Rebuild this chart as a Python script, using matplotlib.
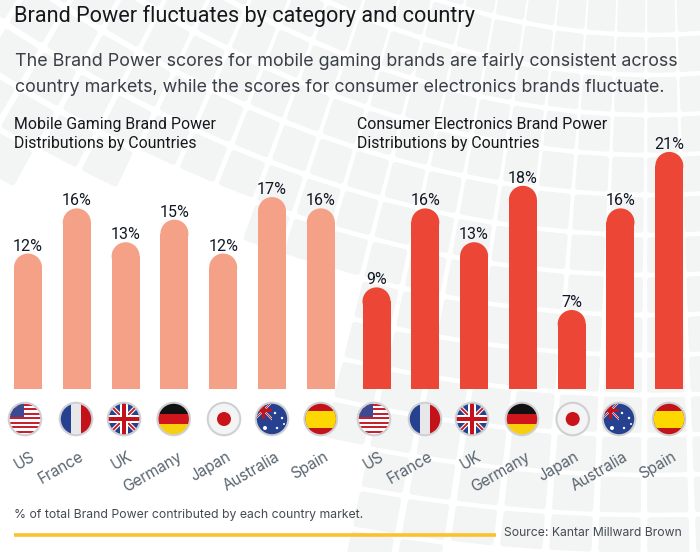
import matplotlib
matplotlib.use("Agg")
import matplotlib.pyplot as plt
import matplotlib.transforms as mtrans
from matplotlib.patches import Circle, Ellipse, Polygon, Rectangle

countries = ["US", "France", "UK", "Germany", "Japan", "Australia", "Spain"]
gaming_share = [12, 16, 13, 15, 12, 17, 16]
electronics_share = [9, 16, 13, 18, 7, 16, 21]

title = "Brand Power fluctuates by category and country"
intro_lines = [
    "The Brand Power scores for mobile gaming brands are fairly consistent across",
    "country markets, while the scores for consumer electronics brands fluctuate.",
]
gaming_head = "Mobile Gaming Brand Power\nDistributions by Countries"
electronics_head = "Consumer Electronics Brand Power\nDistributions by Countries"
footnote = "% of total Brand Power contributed by each country market."
source = "Source: Kantar Millward Brown"

W, H = 700, 552
BAR_BOTTOM = 389
BAR_TOP = 130
PX_PER_PCT = 11.29
SLOT = 48.8
BAR_W = 28 / SLOT

HEAD_FONT = "Roboto"
BODY_FONT = "Inter"


def px_axes(fig, left, right, top, bottom, **kw):
    return fig.add_axes(
        [left / W, 1 - bottom / H, (right - left) / W, (bottom - top) / H], **kw
    )


def warp(u, v):
    # pale tile pattern behind the chart, rows bend upward to the left
    x = u + (v - 300) * (u - 650) * 0.0009
    y = v - 0.00045 * (u - 650) ** 2
    return x, y


def draw_background(ax):
    step = 40
    cell = 30
    for iu in range(-4, 22):
        for iv in range(-2, 22):
            u = iu * step + 10
            v = iv * step
            cx, cy = warp(u + cell / 2, v + cell / 2)
            # lower left of the picture stays white
            if cx < 235 and cy > 165:
                continue
            if cx < 345 and cy > 250:
                continue
            if cy > 560 or cy < -30 or cx > 720 or cx < -30:
                continue
            pts = [warp(u, v), warp(u + cell, v), warp(u + cell, v + cell), warp(u, v + cell)]
            ax.add_patch(Polygon(pts, closed=True, fc="#f3f4f4", ec="#f3f4f4", lw=4,
                                 joinstyle="round", zorder=0))


def draw_bars(ax, values, color, centre0):
    left = centre0 - SLOT / 2
    ax.set_position([left / W, 1 - BAR_BOTTOM / H, 7 * SLOT / W, (BAR_BOTTOM - BAR_TOP) / H])
    xs = list(range(len(values)))
    ax.set_xlim(-0.5, 6.5)
    ax.set_ylim(0, (BAR_BOTTOM - BAR_TOP) / PX_PER_PCT)
    cap = 14 / PX_PER_PCT
    ax.bar(xs, [v - cap for v in values], width=BAR_W, color=color, zorder=2)
    for x, v in zip(xs, values):
        ax.add_patch(Ellipse((x, v - cap), BAR_W, 2 * cap, fc=color, ec="none", zorder=2))
        ax.annotate(f"{v}%", (x, v), xytext=(0, 0), textcoords="offset points",
                    ha="center", va="bottom", fontsize=11.5, color="#101824",
                    family=HEAD_FONT)
    ax.patch.set_alpha(0)
    for side in ax.spines.values():
        side.set_visible(False)
    ax.set_yticks([])
    ax.set_xticks(xs)
    ax.set_xticklabels(countries, rotation=30, ha="right", va="center",
                       rotation_mode="anchor", fontsize=11, color="#5a6570",
                       family=BODY_FONT)
    ax.tick_params(axis="x", length=0, pad=48)
    shift = mtrans.ScaledTranslation(6 / 100, 0, ax.figure.dpi_scale_trans)
    for lab in ax.get_xticklabels():
        lab.set_transform(lab.get_transform() + shift)


def flag_us():
    out = [Rectangle((-17, -17), 34, 34, fc="white")]
    for i in range(7):
        out.append(Rectangle((-17, -15.5 + i * 4.5), 34, 2.3, fc="#c8202c"))
    out.append(Rectangle((-17, -17), 16, 15, fc="#3c4a94"))
    return out


def flag_france():
    return [Rectangle((-17, -17), 12, 34, fc="#26418f"),
            Rectangle((-5, -17), 10, 34, fc="#e8e8ea"),
            Rectangle((5, -17), 12, 34, fc="#c4121a")]


def union_jack(cx, cy, size):
    s = size
    w1, w3, w4 = 0.17 * s, 0.22 * s, 0.13 * s
    out = [Rectangle((cx - s, cy - s), 2 * s, 2 * s, fc="#26418f")]
    for sign in (1, -1):
        for width, col in ((w1, "white"), (w1 * 0.45, "#c4121a")):
            out.append(Polygon([(cx - s, cy - sign * (s - width)), (cx - s, cy - sign * (s + width)),
                                (cx + s, cy + sign * (s - width)), (cx + s, cy + sign * (s + width))],
                               closed=True, fc=col))
    out.append(Rectangle((cx - s, cy - w3), 2 * s, 2 * w3, fc="white"))
    out.append(Rectangle((cx - w3, cy - s), 2 * w3, 2 * s, fc="white"))
    out.append(Rectangle((cx - s, cy - w4), 2 * s, 2 * w4, fc="#c4121a"))
    out.append(Rectangle((cx - w4, cy - s), 2 * w4, 2 * s, fc="#c4121a"))
    return out


def flag_uk():
    return union_jack(0, 0, 17)


def flag_germany():
    return [Rectangle((-17, -17), 34, 12, fc="#111111"),
            Rectangle((-17, -5), 34, 10, fc="#d0161c"),
            Rectangle((-17, 5), 34, 12, fc="#f8cf0c")]


def flag_japan():
    return [Rectangle((-17, -17), 34, 34, fc="#f4f4f5"),
            Circle((0, 0), 7, fc="#c9141b")]


def flag_australia():
    out = [Rectangle((-17, -17), 34, 34, fc="#26418f")]
    out += union_jack(-8.5, -8.5, 8.5)
    for sx, sy, r in [(-7, 9, 2), (5, 9, 1.2), (10, -1, 1.2), (3, -6, 1.2), (12, 5, 1)]:
        out.append(Circle((sx, sy), r, fc="white"))
    return out


def flag_spain():
    return [Rectangle((-17, -17), 34, 34, fc="#c4121a"),
            Rectangle((-17, -8), 34, 17, fc="#fdd800")]


FLAGS = [flag_us, flag_france, flag_uk, flag_germany, flag_japan, flag_australia, flag_spain]


def draw_flags(ax, centres):
    y = 419
    for cx, maker in zip(centres, FLAGS):
        ax.add_patch(Circle((cx, y), 17.3, fc="#cfd0d3", ec="none", zorder=3))
        clip = Circle((cx, y), 15.2, transform=ax.transData, fc="none", ec="none")
        ax.add_patch(clip)
        for part in maker():
            part.set_edgecolor("none")
            part.set_zorder(4)
            ax.add_patch(part)
            part.set_transform(mtrans.Affine2D().translate(cx, y) + ax.transData)
            part.set_clip_path(clip)


fig = plt.figure(figsize=(W / 100, H / 100), dpi=100, facecolor="white")

bg = px_axes(fig, 0, W, 0, H, zorder=0)
bg.set_xlim(0, W)
bg.set_ylim(H, 0)
bg.axis("off")
draw_background(bg)

ax_gaming = fig.add_axes([0, 0, 1, 1], zorder=1)
ax_electronics = fig.add_axes([0, 0, 1, 1], zorder=1)
draw_bars(ax_gaming, gaming_share, "#f4a187", 28)
draw_bars(ax_electronics, electronics_share, "#ec4636", 376.5)

top = px_axes(fig, 0, W, 0, H, zorder=2)
top.set_xlim(0, W)
top.set_ylim(H, 0)
top.axis("off")
draw_flags(top, [25, 76, 124, 173.7, 224, 272, 320.7])
draw_flags(top, [374, 425, 472, 522, 572.7, 619, 669])

top.text(14, 16, title, fontsize=15.55, color="#16181c", family=HEAD_FONT, va="center")
top.text(15, 61, intro_lines[0], fontsize=12.9, color="#3a3f48", family=BODY_FONT, va="center")
top.text(15, 87, intro_lines[1], fontsize=12.9, color="#3a3f48", family=BODY_FONT, va="center")
top.text(14, 134, gaming_head, fontsize=11.4, color="#16181c", family=HEAD_FONT, va="center",
         linespacing=1.36)
top.text(357, 134, electronics_head, fontsize=11.4, color="#16181c", family=HEAD_FONT, va="center",
         linespacing=1.36)
top.text(14, 515, footnote, fontsize=8.8, color="#444a52", family=BODY_FONT, va="center")
top.plot([14, 496], [534.7, 534.7], color="#fcc22d", lw=2.6, solid_capstyle="butt")
top.text(504, 533, source, fontsize=8.75, color="#444a52", family=BODY_FONT, va="center")

fig.savefig("out.png", dpi=100)
